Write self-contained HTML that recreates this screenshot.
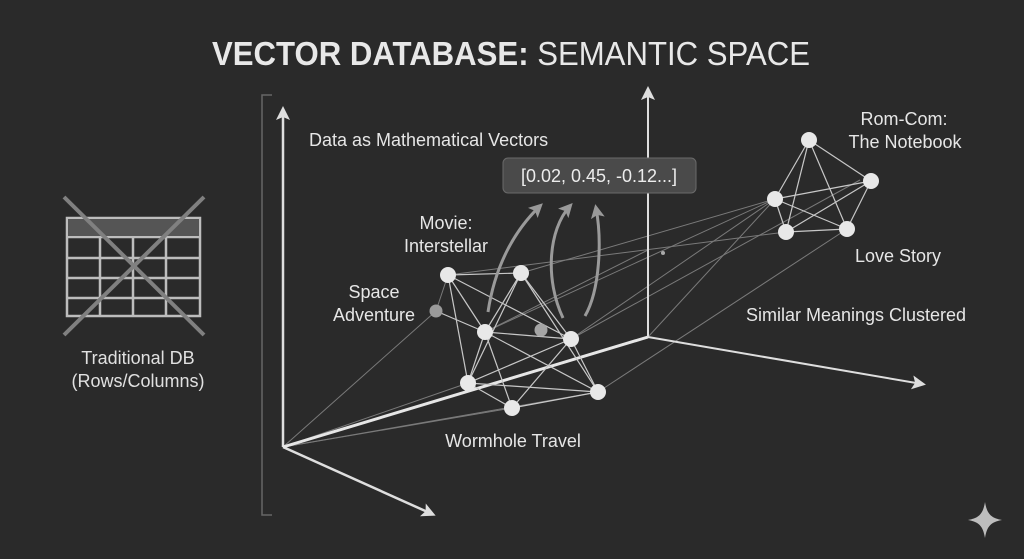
<!DOCTYPE html>
<html><head><meta charset="utf-8"><style>
html,body{margin:0;padding:0;background:#2a2a2a;}
svg{display:block;font-family:"Liberation Sans",sans-serif;}
</style></head><body>
<svg width="1024" height="559" viewBox="0 0 1024 559">
<rect width="1024" height="559" fill="#2a2a2a"/>
<defs>
<marker id="ah2" markerWidth="14" markerHeight="14" refX="10" refY="7" orient="auto" markerUnits="userSpaceOnUse"><path d="M0,0 L14,7 L0,14 L3,7 Z" fill="#dedede"/></marker>
<marker id="ag" markerWidth="14" markerHeight="14" refX="10" refY="7" orient="auto" markerUnits="userSpaceOnUse"><path d="M0,0 L14,7 L0,14 L3,7 Z" fill="#999"/></marker>
</defs>
<text x="511" y="65" text-anchor="middle" font-size="33" fill="#e8e8e8" textLength="598" lengthAdjust="spacingAndGlyphs"><tspan font-weight="bold">VECTOR DATABASE:</tspan> SEMANTIC SPACE</text>

<path d="M272,95 H262 V515 H272" stroke="#666" stroke-width="1.5" fill="none"/>

<g stroke="#bdbdbd" stroke-width="2.5" fill="none">
<rect x="67" y="218" width="133" height="98"/>
<line x1="67" y1="237" x2="200" y2="237"/>
<line x1="67" y1="258" x2="200" y2="258"/>
<line x1="67" y1="278" x2="200" y2="278"/>
<line x1="67" y1="298" x2="200" y2="298"/>
<line x1="100" y1="237" x2="100" y2="316"/>
<line x1="133" y1="237" x2="133" y2="316"/>
<line x1="166" y1="237" x2="166" y2="316"/>
</g>
<rect x="68" y="219" width="131" height="17" fill="#555"/>
<line x1="64" y1="197" x2="204" y2="335" stroke="#808080" stroke-width="4"/>
<line x1="204" y1="197" x2="64" y2="335" stroke="#808080" stroke-width="4"/>
<text x="138" y="364" text-anchor="middle" font-size="18" fill="#e0e0e0">Traditional DB</text>
<text x="138" y="387" text-anchor="middle" font-size="18" fill="#e0e0e0">(Rows/Columns)</text>

<g stroke="#7a7a7a" stroke-width="1" fill="none">
<line x1="283" y1="447" x2="436" y2="311"/>
<line x1="283" y1="447" x2="468" y2="383"/>
<line x1="283" y1="447" x2="512" y2="408"/>
<line x1="283" y1="447" x2="598" y2="392"/>
<line x1="448" y1="275" x2="786" y2="232"/>
<line x1="521" y1="273" x2="775" y2="199"/>
<line x1="485" y1="332" x2="775" y2="199"/>
<line x1="571" y1="339" x2="775" y2="199"/>
<line x1="598" y1="392" x2="847" y2="229"/>
<line x1="648" y1="337" x2="775" y2="199"/>
<line x1="436" y1="311" x2="448" y2="275"/>
<line x1="485" y1="332" x2="648" y2="250"/>
<line x1="571" y1="339" x2="860" y2="180"/>
</g>

<line x1="283" y1="447" x2="283" y2="110" stroke="#dedede" stroke-width="2.5" marker-end="url(#ah2)"/>
<line x1="283" y1="447" x2="432" y2="514" stroke="#dedede" stroke-width="2.5" marker-end="url(#ah2)"/>
<line x1="283" y1="447" x2="648" y2="337" stroke="#e6e6e6" stroke-width="3"/>
<line x1="648" y1="337" x2="648" y2="90" stroke="#dedede" stroke-width="2" marker-end="url(#ah2)"/>
<line x1="648" y1="337" x2="922" y2="384" stroke="#dedede" stroke-width="2" marker-end="url(#ah2)"/>

<g stroke="#c8c8c8" stroke-width="1.2" fill="none">
<line x1="448" y1="275" x2="521" y2="273"/>
<line x1="448" y1="275" x2="485" y2="332"/>
<line x1="448" y1="275" x2="468" y2="383"/>
<line x1="448" y1="275" x2="571" y2="339"/>
<line x1="436" y1="311" x2="485" y2="332"/>
<line x1="521" y1="273" x2="485" y2="332"/>
<line x1="521" y1="273" x2="571" y2="339"/>
<line x1="521" y1="273" x2="598" y2="392"/>
<line x1="521" y1="273" x2="468" y2="383"/>
<line x1="485" y1="332" x2="571" y2="339"/>
<line x1="485" y1="332" x2="468" y2="383"/>
<line x1="485" y1="332" x2="512" y2="408"/>
<line x1="485" y1="332" x2="598" y2="392"/>
<line x1="571" y1="339" x2="468" y2="383"/>
<line x1="571" y1="339" x2="512" y2="408"/>
<line x1="571" y1="339" x2="598" y2="392"/>
<line x1="468" y1="383" x2="512" y2="408"/>
<line x1="468" y1="383" x2="598" y2="392"/>
<line x1="512" y1="408" x2="598" y2="392"/>
</g>
<g stroke="#c8c8c8" stroke-width="1.2">
<line x1="809" y1="140" x2="871" y2="181"/>
<line x1="809" y1="140" x2="775" y2="199"/>
<line x1="809" y1="140" x2="786" y2="232"/>
<line x1="809" y1="140" x2="847" y2="229"/>
<line x1="871" y1="181" x2="775" y2="199"/>
<line x1="871" y1="181" x2="786" y2="232"/>
<line x1="871" y1="181" x2="847" y2="229"/>
<line x1="775" y1="199" x2="786" y2="232"/>
<line x1="775" y1="199" x2="847" y2="229"/>
<line x1="786" y1="232" x2="847" y2="229"/>
</g>

<g stroke="#9a9a9a" stroke-width="3" fill="none">
<path d="M488,312 C495,265 515,230 540,206" marker-end="url(#ag)"/>
<path d="M563,318 C545,280 548,230 570,206" marker-end="url(#ag)"/>
<path d="M585,316 C600,290 602,240 596,208" marker-end="url(#ag)"/>
</g>

<g fill="#e8e8e8">
<circle cx="448" cy="275" r="8"/><circle cx="521" cy="273" r="8"/>
<circle cx="485" cy="332" r="8"/><circle cx="571" cy="339" r="8"/>
<circle cx="468" cy="383" r="8"/><circle cx="512" cy="408" r="8"/>
<circle cx="598" cy="392" r="8"/>
<circle cx="809" cy="140" r="8"/><circle cx="871" cy="181" r="8"/>
<circle cx="775" cy="199" r="8"/><circle cx="786" cy="232" r="8"/>
<circle cx="847" cy="229" r="8"/>
</g>
<circle cx="436" cy="311" r="6.5" fill="#9a9a9a"/>
<circle cx="541" cy="330" r="6.5" fill="#a5a5a5"/>
<circle cx="663" cy="253" r="2" fill="#aaa"/>

<rect x="503" y="158" width="193" height="35" rx="5" fill="#4a4a4a" stroke="#6a6a6a"/>
<text x="599" y="182" text-anchor="middle" font-size="18" fill="#ececec">[0.02, 0.45, -0.12...]</text>

<g font-size="18" fill="#e6e6e6">
<text x="309" y="146">Data as Mathematical Vectors</text>
<text x="446" y="229" text-anchor="middle">Movie:</text>
<text x="446" y="252" text-anchor="middle">Interstellar</text>
<text x="374" y="298" text-anchor="middle">Space</text>
<text x="374" y="321" text-anchor="middle">Adventure</text>
<text x="513" y="447" text-anchor="middle">Wormhole Travel</text>
<text x="904" y="125" text-anchor="middle">Rom-Com:</text>
<text x="905" y="148" text-anchor="middle">The Notebook</text>
<text x="898" y="262" text-anchor="middle">Love Story</text>
<text x="856" y="321" text-anchor="middle">Similar Meanings Clustered</text>
</g>

<path d="M985,502 C987,514 991,518 1002,520 C991,522 987,526 985,538 C983,526 979,522 968,520 C979,518 983,514 985,502 Z" fill="#bdbdbd"/>
</svg>
</body></html>
